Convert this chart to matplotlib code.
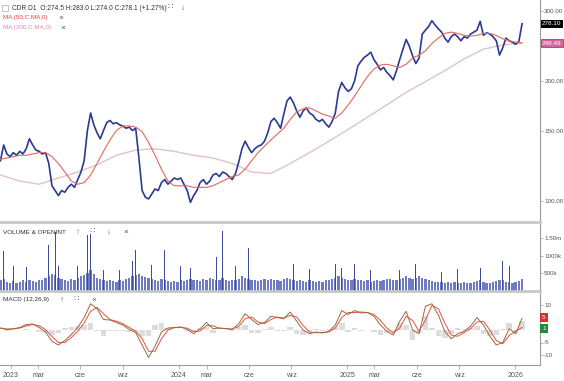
import pandas as pd
import matplotlib
matplotlib.use("Agg")
import matplotlib.pyplot as plt
import matplotlib.ticker as mticker
from matplotlib.patches import Rectangle

W, H = 564, 381

# weekly closes (log price axis)
week_dates = pd.date_range("2022-12-09", periods=163, freq="7D")
close = [126, 138, 131, 129, 132, 130, 133, 131, 135, 143,
         138, 134, 133, 131, 132, 124, 109, 106, 103, 106,
         105, 108, 110, 108, 113, 118, 126, 150, 166, 155,
         148, 143, 150, 157, 159, 156, 157, 155, 154, 152,
         153, 150, 152, 128, 106, 102, 101, 104, 107, 106,
         111, 113, 110, 112, 114, 113, 114, 110, 106, 99,
         103, 106, 111, 113, 110, 112, 116, 117, 115, 118,
         117, 115, 113, 117, 125, 135, 141, 136, 132, 135,
         137, 138, 141, 148, 158, 161, 157, 152, 165, 178,
         182, 176, 168, 162, 168, 171, 166, 164, 160, 158,
         160, 156, 153, 158, 166, 188, 198, 192, 188, 191,
         200, 218, 224, 229, 232, 236, 226, 220, 213, 216,
         210, 206, 201, 212, 226, 240, 254, 244, 231, 221,
         228, 262, 268, 274, 283, 276, 270, 265, 256, 250,
         258, 262, 258, 252, 258, 256, 262, 265, 268, 282,
         260, 264, 262, 258, 252, 232, 242, 256, 252, 250,
         247, 251, 278.1]

# moving averages, read every two / six weeks
ma50_dates = pd.date_range("2022-12-09", periods=82, freq="14D")
ma50 = [127, 128, 129, 130, 130, 131, 132, 132, 129, 124,
        118, 112, 110, 111, 116, 124, 133, 142, 150, 154,
        154, 153, 149, 140, 130, 120, 112, 109, 109, 109,
        108, 108, 108, 109, 111, 113, 115, 116, 120, 126,
        132, 137, 142, 147, 152, 160, 167, 170, 171, 168,
        165, 163, 161, 166, 174, 183, 194, 205, 214, 219,
        220, 218, 216, 220, 228, 232, 238, 248, 256, 263,
        265, 263, 260, 259, 260, 263, 263, 260, 255, 252,
        250, 249]
ma200_dates = pd.date_range("2022-12-09", periods=28, freq="42D")
ma200 = [116, 112, 110, 114, 118, 123, 130, 134, 135, 133,
         130, 128, 124, 118, 117, 124, 132, 141, 151, 162,
         174, 187, 199, 212, 227, 240, 246, 248.5]

# MACD (12,26,9), read every two weeks
macd_dates = ma50_dates
macd = [0.7, 0.2, 0.5, 1.0, 2.2, 2.4, 1.0, -0.8, -4.5, -6.0,
        -4.2, -1.8, 1.0, 5.0, 10.5, 8.5, 4.2, 4.0, 3.0, 2.0,
        0.2, -1.0, -6.0, -11.0, -6.5, -0.8, 0.8, 1.0, 1.2, 0.2,
        -1.5, 0.5, 3.0, 0.5, 0.8, 0.5, 0.2, 2.5, 6.5, 4.2,
        2.2, 3.0, 5.5, 5.0, 4.5, 7.2, 3.5, 0.0, -1.5, -0.8,
        -1.2, -0.5, 2.0, 7.8, 6.2, 7.8, 6.8, 7.0, 5.5, 2.0,
        -0.5, -2.0, 3.5, 7.5, 0.0, -1.5, 9.5, 10.5, 6.0, -0.5,
        -3.5, -1.5, -0.5, 1.5, 5.0, 2.0, -2.5, -6.0, -5.0, 0.5,
        -1.5, 4.7]
signal = [0.8, 0.4, 0.4, 0.8, 1.6, 2.2, 1.7, 0.2, -2.6, -5.0,
          -5.0, -3.0, -0.5, 2.8, 7.5, 9.0, 6.5, 4.2, 3.5, 2.5,
          1.0, -0.4, -3.5, -8.5, -8.5, -3.5, 0.0, 0.9, 1.1, 0.7,
          -0.6, -0.4, 1.8, 1.7, 0.7, 0.6, 0.4, 1.4, 4.5, 5.2,
          3.2, 2.6, 4.2, 5.2, 4.8, 5.8, 5.2, 1.8, -0.8, -1.1,
          -1.0, -0.8, 0.8, 5.0, 7.0, 7.0, 7.2, 7.0, 6.2, 3.8,
          0.8, -1.2, 0.8, 5.5, 3.8, -0.5, 4.0, 9.8, 8.5, 2.8,
          -2.0, -2.5, -1.0, 0.5, 3.2, 3.5, 0.0, -4.2, -5.5, -2.2,
          -0.5, 1.0]
hist = [m - s for m, s in zip(macd, signal)]

# volume in thousands: weekly typical level + single-day spikes
vol_avg = [300, 350, 260, 240, 280, 230, 250, 300, 260, 320,
           280, 260, 300, 320, 380, 420, 480, 450, 380, 330,
           300, 280, 340, 320, 380, 420, 460, 520, 600, 480,
           380, 330, 300, 280, 310, 290, 270, 300, 280, 330,
           360, 420, 460, 480, 440, 400, 380, 330, 300, 290,
           340, 300, 280, 260, 290, 270, 300, 280, 320, 350,
           300, 320, 290, 330, 300, 380, 340, 300, 320, 360,
           300, 280, 320, 300, 350, 420, 380, 340, 300, 320,
           290, 310, 330, 300, 340, 320, 300, 280, 330, 360,
           330, 300, 280, 310, 290, 270, 300, 280, 260, 290,
           270, 300, 320, 330, 380, 420, 380, 340, 310, 300,
           340, 320, 300, 280, 300, 270, 290, 310, 280, 300,
           330, 350, 320, 300, 340, 380, 420, 360, 330, 380,
           420, 360, 330, 300, 280, 260, 250, 270, 240, 260,
           230, 250, 240, 220, 260, 240, 230, 250, 280, 300,
           260, 240, 230, 260, 280, 320, 300, 270, 250, 240,
           260, 280, 350]
spike_weeks = [1, 4, 8, 12, 15, 17, 18, 21, 24, 27, 28, 29, 32, 37, 41,
               42, 44, 47, 51, 56, 59, 62, 67, 69, 73, 77, 80, 85, 89,
               91, 96, 98, 104, 106, 110, 115, 120, 124, 129, 130, 137,
               142, 149, 156, 158, 162]
spike_vol = [1150, 700, 680, 650, 1300, 1680, 700, 700, 720, 1590, 1620,
             1000, 600, 600, 850, 1160, 1240, 750, 1160, 700, 650, 640,
             960, 1700, 700, 1240, 700, 1200, 680, 780, 640, 600, 760,
             650, 780, 600, 1240, 600, 780, 1200, 550, 640, 650, 870,
             700, 800]

tick_dates = pd.to_datetime(["2023-01-01", "2023-03-01", "2023-06-01", "2023-09-01",
                             "2024-01-01", "2024-03-01", "2024-06-01", "2024-09-01",
                             "2025-01-01", "2025-03-01", "2025-06-01", "2025-09-01",
                             "2026-01-01"])
tick_labels = ["2023", "mar", "cze", "wrz", "2024", "mar", "cze", "wrz",
               "2025", "mar", "cze", "wrz", "2026"]

plt.rcParams["font.family"] = ["Liberation Sans", "DejaVu Sans"]


def box(x0, y0, x1, y1):
    return [x0 / W, 1 - y1 / H, (x1 - x0) / W, (y1 - y0) / H]


def ftext(x, y, s, **kw):
    fig.text(x / W, 1 - y / H, s, va="center", ha="left", **kw)


fig = plt.figure(figsize=(W / 100, H / 100), dpi=100)
ax_p = fig.add_axes(box(0, 0, 540, 222))
ax_v = fig.add_axes(box(0, 224, 540, 291), sharex=ax_p)
ax_m = fig.add_axes(box(0, 293, 540, 365), sharex=ax_p)

for ax in (ax_p, ax_v, ax_m):
    ax.spines["top"].set_visible(False)
    ax.spines["left"].set_visible(False)
    ax.spines["right"].set_color("#9a9a9a")
    ax.spines["right"].set_linewidth(0.8)
    ax.spines["bottom"].set_color("#c8c8c8")
    ax.spines["bottom"].set_linewidth(2)
    ax.yaxis.tick_right()
    ax.tick_params(axis="y", direction="out", length=2, width=0.5, colors="#9a9a9a",
                   labelcolor="#555555", labelsize=4.5, pad=1)
    ax.tick_params(axis="x", bottom=False, labelbottom=False)

# price panel
ax_p.plot(ma200_dates, ma200, color="#dfc4c6", lw=1.0, zorder=1)
ax_p.plot(week_dates, close, color="#2a3a90", lw=1.2, zorder=2)
ax_p.plot(ma50_dates, ma50, color="#e2695c", lw=0.8, zorder=3)
ax_p.set_yscale("log")
ax_p.set_ylim(88.4, 319)
ax_p.yaxis.set_major_locator(mticker.FixedLocator([100, 150, 200, 300]))
ax_p.yaxis.set_major_formatter(mticker.FuncFormatter(lambda v, p: f"{v:.2f}"))
ax_p.yaxis.set_minor_locator(mticker.NullLocator())
ax_p.set_xlim(pd.Timestamp("2022-12-08"), pd.Timestamp("2026-02-24"))

ytr = ax_p.get_yaxis_transform()
ax_p.text(1.004, close[-1], f"{close[-1]:.2f}", transform=ytr, va="center", ha="left",
          fontsize=4.6, color="white", clip_on=False,
          bbox=dict(boxstyle="square,pad=0.25", fc="black", ec="none"))
ax_p.text(1.004, 248.49, "248.49", transform=ytr, va="center", ha="left",
          fontsize=4.6, color="white", clip_on=False,
          bbox=dict(boxstyle="square,pad=0.25", fc="#d065a0", ec="#d6303a", lw=0.6))

# volume panel
ax_v.bar(week_dates, vol_avg, width=5, color="#6f7bc0", lw=0)
ax_v.bar(week_dates[spike_weeks], spike_vol, width=1.4, color="#3d4a9e", lw=0)
ax_v.set_ylim(0, 1914)
ax_v.set_yticks([500, 1000, 1500])
ax_v.set_yticklabels(["500k", "1000k", "1.50m"])

# MACD panel
ax_m.bar(macd_dates, hist, width=12, color="#dcdcdc", lw=0, zorder=1)
ax_m.plot(macd_dates, signal, color="#e0504a", lw=0.7, zorder=2)
ax_m.plot(macd_dates, macd, color="#9a6a3a", lw=0.7, zorder=3)
ax_m.set_ylim(-14, 14.8)
ax_m.set_yticks([10, -5, -10])
ax_m.set_yticklabels(["10", "-5", "-10"])
ax_m.spines["bottom"].set_color("#9a9a9a")
ax_m.spines["bottom"].set_linewidth(0.8)
mtr = ax_m.get_yaxis_transform()
ax_m.text(1.004, 5, "5", transform=mtr, va="center", ha="left", fontsize=4.5,
          color="white", clip_on=False,
          bbox=dict(boxstyle="square,pad=0.3", fc="#d8302c", ec="none"))
ax_m.text(1.004, 0.6, "1", transform=mtr, va="center", ha="left", fontsize=4.5,
          color="white", clip_on=False,
          bbox=dict(boxstyle="square,pad=0.3", fc="#1e8a3a", ec="none"))

ax_m.set_xticks(tick_dates)
ax_m.set_xticklabels(tick_labels)
ax_m.tick_params(axis="x", bottom=True, labelbottom=True, direction="out", length=3,
                 width=0.5, colors="#9a9a9a", labelcolor="#555555", labelsize=5, pad=2)

# panel headers
fig.add_artist(Rectangle((2 / W, 1 - 11 / H), 6 / W, 6 / H, fill=False, ec="#aaaaaa",
                         lw=0.5, transform=fig.transFigure))
ftext(12, 8, "CDR D1  O:274.5 H:283.0 L:274.0 C:278.1 (+1.27%)", fontsize=4.8, color="#333333")
ftext(168, 8, "\u2237", fontsize=6, color="#666666")
ftext(181, 8, "\u2193", fontsize=6, color="#666666")
ftext(3, 18, "MA (50,C,MA,0)", fontsize=4.5, color="#e0403a")
ftext(58, 18, "\u00d7", fontsize=6, color="#555555")
ftext(3, 28, "MA (200,C,MA,0)", fontsize=4.5, color="#d98ab0")
ftext(60, 28, "\u00d7", fontsize=6, color="#555555")

ftext(3, 232, "VOLUME & OPENINT", fontsize=4.6, color="#333333")
ftext(76, 232, "\u2191", fontsize=6, color="#666666")
ftext(89, 232, "\u2237", fontsize=6, color="#666666")
ftext(107, 232, "\u2193", fontsize=6, color="#666666")
ftext(123, 232, "\u00d7", fontsize=6, color="#555555")

ftext(3, 300, "MACD (12,26,9)", fontsize=4.6, color="#333333")
ftext(60, 300, "\u2191", fontsize=6, color="#666666")
ftext(74, 300, "\u2237", fontsize=6, color="#666666")
ftext(91, 300, "\u00d7", fontsize=6, color="#555555")

fig.savefig("out.png", dpi=100)
